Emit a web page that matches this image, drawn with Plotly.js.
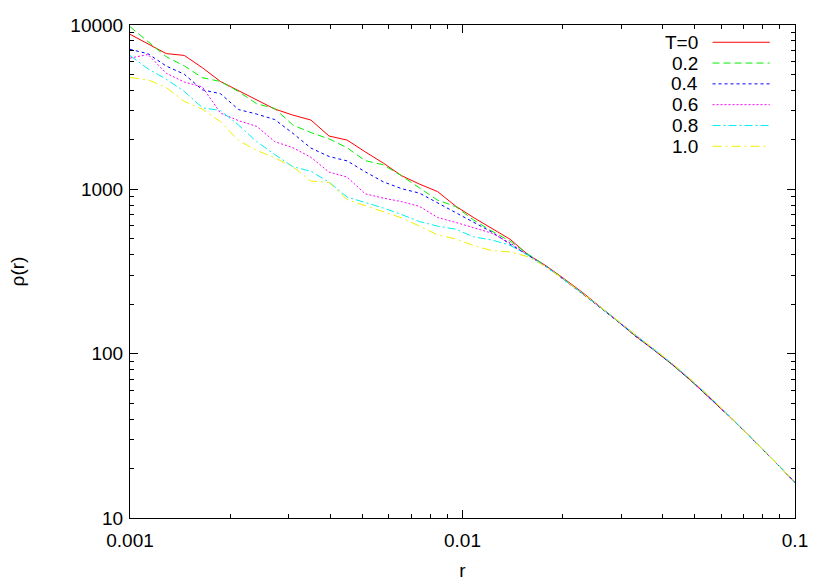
<!DOCTYPE html>
<html>
<head>
<meta charset="utf-8">
<script src="https://cdn.plot.ly/plotly-3.0.1.min.js"></script>
<style>
  html, body { margin: 0; padding: 0; background: #fff; }
  #chart { width: 830px; height: 581px; }
</style>
</head>
<body>
<div id="chart"></div>
<script>
// radius grid (log spaced)
const r = [0.001, 0.001133, 0.001285, 0.001456, 0.001651, 0.001871, 0.002121, 0.002404,
  0.002725, 0.003089, 0.003501, 0.003969, 0.004499, 0.005099, 0.005780, 0.006552,
  0.007427, 0.008418, 0.009542, 0.010816, 0.012260, 0.013897, 0.015752, 0.017856,
  0.020240, 0.022942, 0.026006, 0.029478, 0.033414, 0.037876, 0.042933, 0.048666,
  0.055164, 0.062530, 0.070879, 0.080343, 0.091070, 0.10317];

// density profiles rho(r) for each T
const rhoT00 = [8780, 7670, 6700, 6530, 5495, 4530, 3970, 3490, 3080, 2830, 2640, 2110, 1994,
  1690, 1444, 1212, 1076, 968, 790, 672, 580, 497, 400,
  342, 285, 236, 192, 156, 126.4, 104.2, 85.1, 68.5, 54.4, 42.7, 33.3, 25.9, 20.0, 15.4];
const rhoT02 = [9760, 7920, 6420, 5640, 4780, 4530, 3935, 3317, 3105, 2460, 2215, 2028, 1789,
  1495, 1410, 1210, 1024, 859, 785, 649, 556, 484, 403,
  341, 283, 233, 191, 157, 127, 105, 85.6, 68.8, 54.6, 42.9, 33.4, 26.0, 20.1, 15.5];
const rhoT04 = [7110, 6686, 5627, 5017, 4031, 3821, 3058, 2871, 2657, 2193, 1782, 1584, 1489,
  1278, 1111, 1010, 948, 828, 726, 627, 549, 464, 397,
  339, 281, 232, 190, 155.5, 126, 104.5, 85.3, 68.6, 54.4, 42.7, 33.3, 25.9, 20.0, 15.4];
const rhoT06 = [6295, 6611, 5088, 4498, 4198, 2912, 2617, 2416, 1952, 1792, 1566, 1273, 1187,
  939, 884, 842, 787, 674, 629, 584, 541, 472, 397,
  340, 282, 233, 191, 156.5, 127, 105.2, 85.9, 69.1, 54.8, 42.9, 33.3, 25.9, 20.0, 15.4];
const rhoT08 = [6520, 5411, 4684, 3947, 3136, 3015, 2460, 1952, 1629, 1373, 1287, 1106, 897,
  833, 770, 703, 636, 597, 572, 513, 492, 457, 397,
  338, 281, 233, 191, 157, 127.5, 105.5, 86.2, 69.3, 55.0, 43.0, 33.4, 25.9, 20.0, 15.4];
const rhoT10 = [4789, 4637, 4169, 3430, 3071, 2584, 1980, 1728, 1553, 1373, 1122, 1100, 866,
  797, 735, 671, 597, 528, 499, 454, 424, 416, 389,
  337, 282, 234, 192, 157.5, 128, 106, 86.5, 69.5, 55.1, 43.0, 33.4, 25.9, 20.0, 15.4];

const labels = ['T=0', '0.2', '0.4', '0.6', '0.8', '1.0'];
const xTicks = [0.001, 0.01, 0.1];
const xTickText = ['0.001', '0.01', '0.1'];
const yTicks = [10, 100, 1000, 10000];
const yTickText = ['10', '100', '1000', '10000'];

const series = [rhoT00, rhoT02, rhoT04, rhoT06, rhoT08, rhoT10];
const colors = ['#ff0000', '#00f000', '#0000ff', '#ff00ff', '#00f0f0', '#f0f000'];
const dashes = ['solid', '7px,4px', '3px,3px', '2px,2px', '8px,3px,2px,3px', '9px,4px,2px,4px'];

// minor tick positions: 2..9 within each decade
function minorTicks(decades) {
  const out = [];
  decades.forEach(d => { for (let m = 2; m <= 9; m++) out.push(m * d); });
  return out;
}

const font = { family: 'Liberation Sans, Arial, sans-serif', size: 19, color: '#000' };

const traces = series.map((s, i) => ({
  x: r,
  y: s,
  type: 'scatter',
  mode: 'lines',
  name: labels[i],
  line: { color: colors[i], width: 1, dash: dashes[i] },
  showlegend: false,
}));

// gnuplot style key: text right-aligned, sample line to the right
const annotations = [];
const shapes = [];
labels.forEach((lab, i) => {
  const y = 0.965 - i * 0.0422;
  annotations.push({
    xref: 'paper', yref: 'paper', x: 0.857, y: y,
    xanchor: 'right', yanchor: 'middle', showarrow: false,
    text: lab, font: font,
  });
  shapes.push({
    type: 'line', xref: 'paper', yref: 'paper',
    x0: 0.876, x1: 0.962, y0: y, y1: y,
    line: { color: colors[i], width: 1, dash: dashes[i] },
  });
});

const axisCommon = {
  type: 'log',
  showline: true,
  linecolor: '#000',
  linewidth: 1,
  mirror: 'ticks',
  ticks: 'inside',
  ticklen: 8,
  tickcolor: '#000',
  showgrid: false,
  zeroline: false,
  tickmode: 'array',
  tickfont: font,
};

const layout = {
  width: 830,
  height: 581,
  margin: { l: 130, r: 35, t: 25, b: 63 },
  paper_bgcolor: '#fff',
  plot_bgcolor: '#fff',
  font: font,
  xaxis: Object.assign({}, axisCommon, {
    range: [-3, -1],
    tickvals: xTicks,
    ticktext: xTickText,
    ticklabelstandoff: 5,
    minor: { tickmode: 'array', tickvals: minorTicks([0.001, 0.01]),
      ticks: 'inside', ticklen: 4, tickcolor: '#000', showgrid: false },
    title: { text: 'r', font: font, standoff: 18 },
  }),
  yaxis: Object.assign({}, axisCommon, {
    range: [1, 4],
    tickvals: yTicks,
    ticktext: yTickText,
    ticklabelstandoff: 2,
    minor: { tickmode: 'array', tickvals: minorTicks([10, 100, 1000]),
      ticks: 'inside', ticklen: 4, tickcolor: '#000', showgrid: false },
    title: { text: 'ρ(r)', font: font, standoff: 40 },
  }),
  annotations: annotations,
  shapes: shapes,
};

Plotly.newPlot('chart', traces, layout, { displayModeBar: false, staticPlot: true });
</script>
</body>
</html>
